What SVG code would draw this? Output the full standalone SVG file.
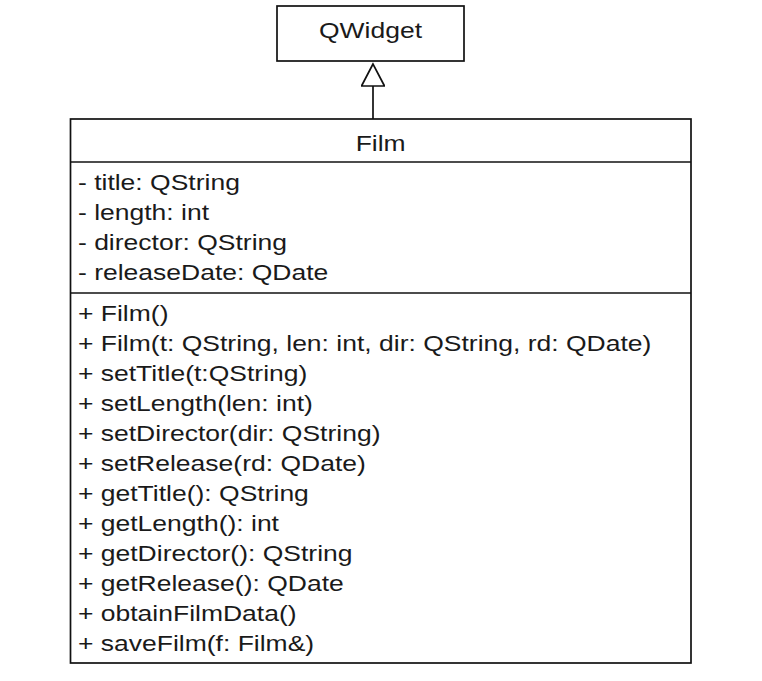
<svg xmlns="http://www.w3.org/2000/svg" width="762" height="681" viewBox="0 0 762 681">
  <defs>
    <style>
      .box { fill: #ffffff; stroke: #111111; stroke-width: 1.7; }
      .sep { stroke: #111111; stroke-width: 1.7; }
      .edge { stroke: #111111; stroke-width: 1.7; fill: none; }
      .t { font-family: "Liberation Sans", Arial, sans-serif; font-size: 22px; fill: #1a1a1a; }
      .c { text-anchor: middle; }
    </style>
    <marker id="inherit" viewBox="0 0 28 24" refX="1" refY="12" markerWidth="28" markerHeight="24" markerUnits="userSpaceOnUse" orient="auto">
      <path d="M23,12 L1,0.5 L1,23.5 Z" fill="#ffffff" stroke="#111111" stroke-width="1.7"/>
    </marker>
  </defs>
  <rect width="762" height="681" fill="#ffffff"/>

  <g id="connectors">
    <path class="edge" d="M373,119 L373,86" marker-end="url(#inherit)"/>
  </g>

  <g id="QWidget">
    <rect class="box" x="277" y="6" width="187" height="55"/>
    <g transform="scale(1.205 1)">
      <text class="t c" x="307.5" y="38">QWidget</text>
    </g>
  </g>

  <g id="Film">
    <rect class="box" x="70.5" y="119" width="620.5" height="544"/>
    <line class="sep" x1="70.5" y1="162" x2="691" y2="162"/>
    <line class="sep" x1="70.5" y1="293" x2="691" y2="293"/>
    <g transform="scale(1.205 1)">
      <text class="t c" x="315.9" y="151">Film</text>
      <text class="t" x="64.7" y="190">- title: QString</text>
      <text class="t" x="64.7" y="220">- length: int</text>
      <text class="t" x="64.7" y="250">- director: QString</text>
      <text class="t" x="64.7" y="280">- releaseDate: QDate</text>
      <text class="t" x="64.7" y="321">+ Film()</text>
      <text class="t" x="64.7" y="351">+ Film(t: QString, len: int, dir: QString, rd: QDate)</text>
      <text class="t" x="64.7" y="381">+ setTitle(t:QString)</text>
      <text class="t" x="64.7" y="411">+ setLength(len: int)</text>
      <text class="t" x="64.7" y="441">+ setDirector(dir: QString)</text>
      <text class="t" x="64.7" y="471">+ setRelease(rd: QDate)</text>
      <text class="t" x="64.7" y="501">+ getTitle(): QString</text>
      <text class="t" x="64.7" y="531">+ getLength(): int</text>
      <text class="t" x="64.7" y="561">+ getDirector(): QString</text>
      <text class="t" x="64.7" y="591">+ getRelease(): QDate</text>
      <text class="t" x="64.7" y="621">+ obtainFilmData()</text>
      <text class="t" x="64.7" y="651">+ saveFilm(f: Film&amp;)</text>
    </g>
  </g>
</svg>
